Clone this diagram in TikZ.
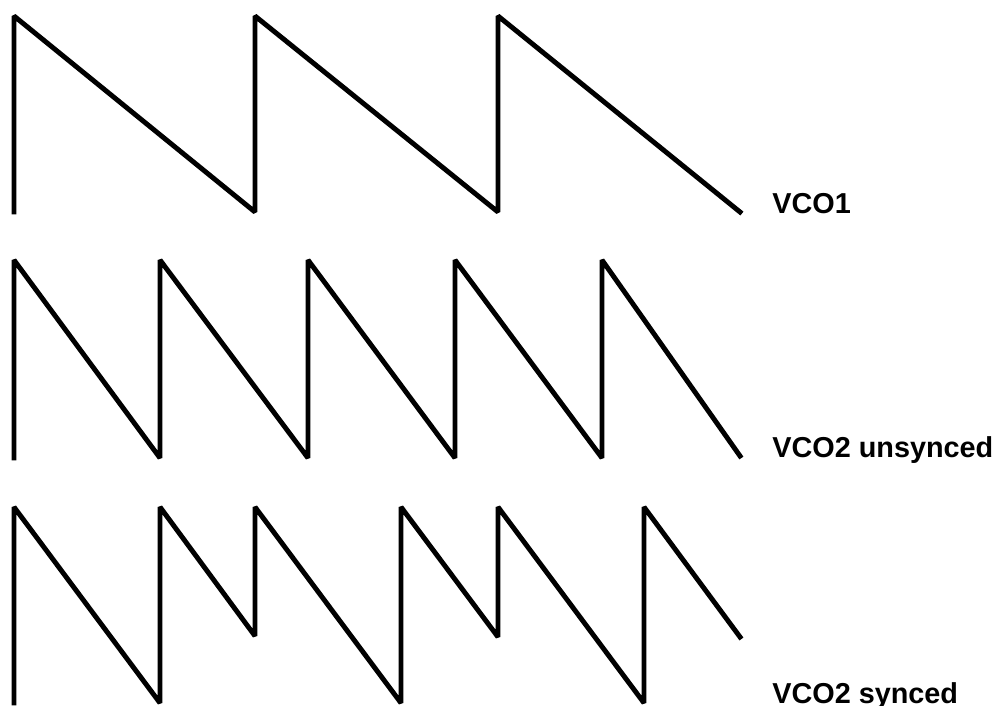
\documentclass[tikz,border=0pt]{standalone}
\usepackage{fontspec}
\setmainfont{Liberation Sans}
\tikzset{
  wave/.style={line width=2.8pt, line join=bevel, line cap=rect},
  wavelabel/.style={anchor=base west, inner sep=0pt, font=\fontsize{16.4pt}{19pt}\selectfont\bfseries}
}
\begin{document}
\begin{tikzpicture}[x=0.02cm,y=-0.02cm]
    \useasboundingbox (0,0) rectangle (1000,706);

    % VCO1
    \draw[wave] (14,212) -- (14,16) -- (255,212) -- (255,16) -- (498,212)
        -- (498,16) -- (740,212);
    \node[wavelabel] (vcoone) at (772,213) {VCO1};

    % VCO2 unsynced
    \draw[wave] (14,458) -- (14,260) -- (160,458) -- (160,260) -- (308,458)
        -- (308,260) -- (455,458) -- (455,260) -- (602,458) -- (602,260) -- (740,456);
    \node[wavelabel] (vcotwofree) at (772,457) {VCO2 unsynced};

    % VCO2 synced
    \draw[wave] (14,703) -- (14,507) -- (160,703) -- (160,507) -- (255,636)
        -- (255,507) -- (401,703) -- (401,507) -- (498,637) -- (498,507)
        -- (644,703) -- (644,507) -- (740,637);
    \node[wavelabel] (vcotwosync) at (772,703) {VCO2 synced};

\end{tikzpicture}
\end{document}
